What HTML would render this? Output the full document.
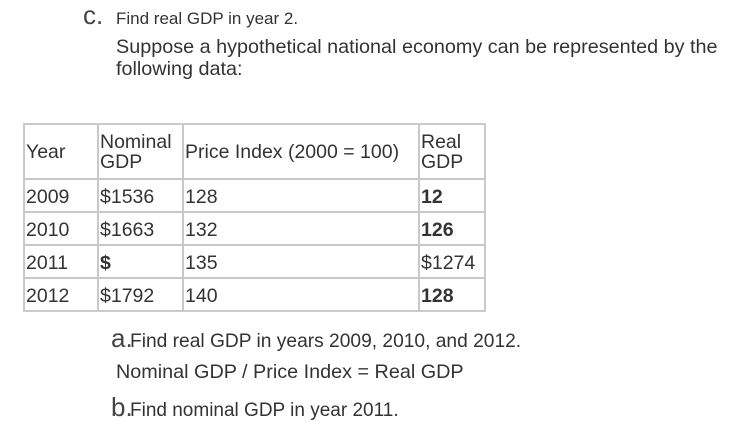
<!DOCTYPE html>
<html><head><meta charset="utf-8"><style>
body{margin:0;width:735px;height:446px;background:#fff;position:relative;overflow:hidden;font-family:"Liberation Sans",Arial,sans-serif;color:#333;font-size:19.5px}
.a{position:absolute;white-space:nowrap;line-height:22px}
.big{font-size:26px;color:#444}
table{position:absolute;left:23px;top:123px;border-collapse:separate;border-spacing:0;border:1px solid #ccc;table-layout:fixed;width:461px}
td,th{border:1px solid #c8c8c8;padding:0 1px;font-size:19.5px;line-height:20px;vertical-align:middle;color:#333;overflow:visible;white-space:nowrap}
td{padding-top:3px}
th{font-weight:normal;text-align:left}
</style></head><body>
<div class="a" style="left:83px;top:4px;font-size:17px"><span class="big">c.</span><span style="position:absolute;left:33px;top:4px">Find real GDP in year 2.</span></div>
<div class="a" style="left:116px;top:36px;line-height:22px;font-size:19.8px">Suppose a hypothetical national economy can be represented by the<br>following data:</div>
<table>
<colgroup><col style="width:74px"><col style="width:85px"><col style="width:236px"><col style="width:66px"></colgroup>
<tr style="height:55px"><th>Year</th><th>Nominal<br>GDP</th><th>Price Index (2000 = 100)</th><th>Real<br>GDP</th></tr>
<tr style="height:33px"><td>2009</td><td>$1536</td><td>128</td><td><b>12</b></td></tr>
<tr style="height:33px"><td>2010</td><td>$1663</td><td>132</td><td><b>126</b></td></tr>
<tr style="height:33px"><td>2011</td><td><b>$</b></td><td>135</td><td>$1274</td></tr>
<tr style="height:33px"><td>2012</td><td>$1792</td><td>140</td><td><b>128</b></td></tr>
</table>
<div class="a" style="left:111px;top:327px;font-size:19.2px"><span class="big">a.</span><span style="position:absolute;left:19px;top:4px">Find real GDP in years 2009, 2010, and 2012.</span></div>
<div class="a" style="left:116px;top:361px;font-size:19.8px">Nominal GDP / Price Index = Real GDP</div>
<div class="a" style="left:111px;top:396px;font-size:19px"><span class="big">b.</span><span style="position:absolute;left:19px;top:4px">Find nominal GDP in year 2011.</span></div>
</body></html>
